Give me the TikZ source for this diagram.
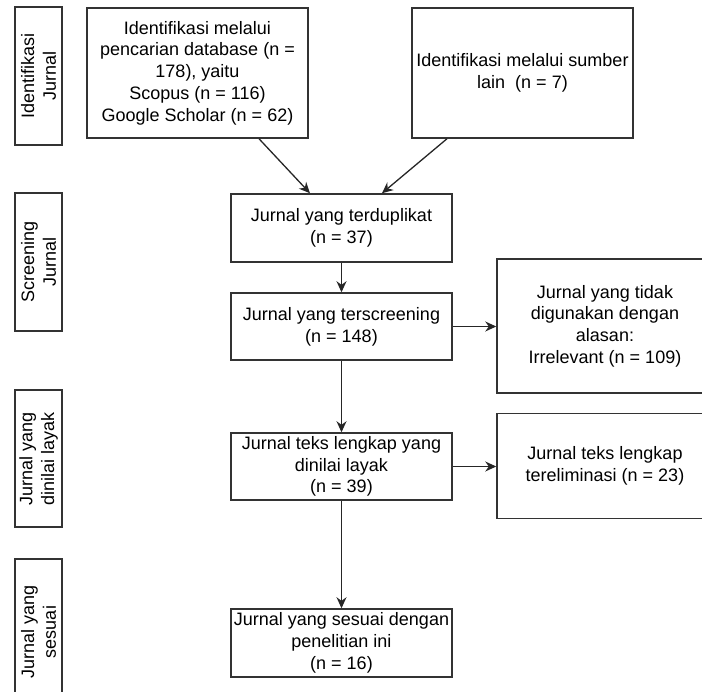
\documentclass[tikz,border=0pt]{standalone}
\usepackage{fontspec}
\setmainfont{Liberation Sans}
\usetikzlibrary{arrows.meta}

\begin{document}
\begin{tikzpicture}[x=1pt, y=-1pt,
        kotak/.style={draw=black!80, line width=1.5pt, align=center, inner sep=0pt, font=\fontsize{18}{21.7}\selectfont},
        tahap/.style={kotak, rotate=90},
        panah/.style={draw=black!85, line width=1.3pt, -{Stealth[length=11pt, width=10pt]}}]
    \useasboundingbox (0,0) rectangle (702,692);

    % label tahap di kiri
    \node [tahap, minimum width=138pt, minimum height=47pt] (tahap1) at (38.5,76) {Identifikasi\\Jurnal};
    \node [tahap, minimum width=138pt, minimum height=47pt] (tahap2) at (38.5,262) {Screening\\Jurnal};
    \node [tahap, minimum width=137pt, minimum height=47pt] (tahap3) at (38.5,458.5) {Jurnal yang\\dinilai layak};
    \node [tahap, minimum width=146pt, minimum height=47pt] (tahap4) at (38.5,632) {Jurnal yang\\sesuai};

    \node [kotak, minimum width=221pt, minimum height=130pt] (database) at (197.5,73) {Identifikasi melalui\\pencarian database (n =\\178), yaitu\\Scopus (n = 116)\\Google Scholar (n = 62)};
    \node [kotak, minimum width=221pt, minimum height=130pt] (sumber) at (522.5,73) {Identifikasi melalui sumber\\lain\ \ (n = 7)};
    \node [kotak, minimum width=221pt, minimum height=68pt] (duplikat) at (341.5,228) {Jurnal yang terduplikat\\(n = 37)};
    \node [kotak, minimum width=221pt, minimum height=67pt] (screening) at (341.5,326.5) {Jurnal yang terscreening\\(n = 148)};
    \node [kotak, minimum width=216pt, minimum height=134pt] (tidak) at (605,326) {Jurnal yang tidak\\digunakan dengan\\alasan:\\Irrelevant (n = 109)};
    \node [kotak, minimum width=221pt, minimum height=67pt] (layak) at (341.5,466.5) {Jurnal teks lengkap yang\\dinilai layak\\(n = 39)};
    \node [kotak, minimum width=216pt, minimum height=105pt] (eliminasi) at (605,466) {Jurnal teks lengkap\\tereliminasi (n = 23)};
    \node [kotak, minimum width=221pt, minimum height=68pt] (sesuai) at (341.5,643) {Jurnal yang sesuai dengan\\penelitian ini\\(n = 16)};

    \draw [panah] (database.south -| 259,0) -- (duplikat.north -| 310,0);
    \draw [panah] (sumber.south -| 447,0) -- (duplikat.north -| 382,0);
    \draw [panah] (duplikat) -- (screening);
    \draw [panah] (screening) -- (tidak.west |- screening);
    \draw [panah] (screening) -- (layak);
    \draw [panah] (layak) -- (eliminasi.west |- layak);
    \draw [panah] (layak) -- (sesuai);
\end{tikzpicture}
\end{document}
